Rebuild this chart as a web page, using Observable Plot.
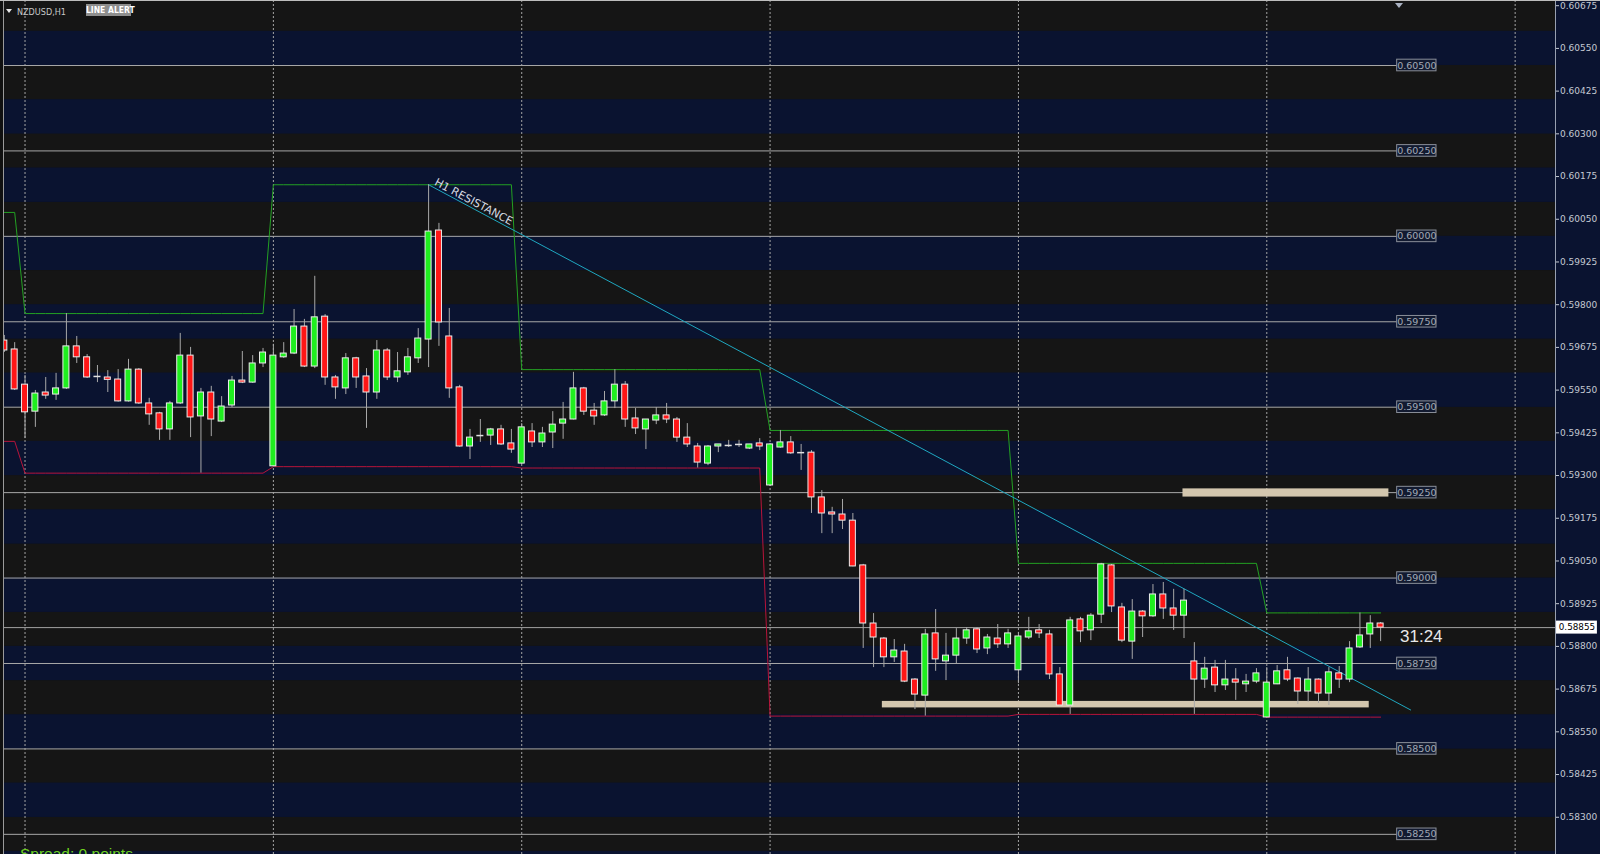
<!DOCTYPE html>
<html><head><meta charset="utf-8">
<script src="https://cdn.jsdelivr.net/npm/d3@7"></script>
<script src="https://cdn.jsdelivr.net/npm/@observablehq/plot@0.6"></script>
<style>
html,body{margin:0;padding:0;background:#0a1330;width:1600px;height:854px;overflow:hidden}
#wrap{position:relative;width:1600px;height:854px;overflow:hidden;background:#0a1330}
#chart svg{display:block}
.ov{position:absolute;white-space:nowrap;line-height:1}
</style></head><body>
<div id="wrap">
<div id="chart"></div>
<div class="ov" style="left:0;top:0;width:3px;height:854px;background:#101010"></div>
<div class="ov" style="left:0;top:0;width:1600px;height:1px;background:#bdbdbd"></div>
<div class="ov" style="left:6px;top:9px;width:0;height:0;border-left:3.5px solid transparent;border-right:3.5px solid transparent;border-top:4px solid #e6e6e6"></div>
<div class="ov" id="sym" style="left:17px;top:7px;font:9px 'DejaVu Sans Condensed','DejaVu Sans';font-stretch:condensed;color:#c8c8c8">NZDUSD,H1</div>
<div class="ov" id="alert" style="left:86px;top:4px;width:45px;height:12px;background:#8e8e8e;color:#fff;font:bold 8.5px 'DejaVu Sans Condensed','DejaVu Sans';font-stretch:condensed;line-height:12px;text-align:center">LINE ALERT</div>
<div class="ov" style="left:1395px;top:3px;width:0;height:0;border-left:4px solid transparent;border-right:4px solid transparent;border-top:5px solid #aab2c2"></div>
<div class="ov" id="timer" style="left:1400px;top:627px;font:17px 'Liberation Sans',Arial;color:#e8e8e8">31:24</div>
<div class="ov" id="spread" style="left:20px;top:845px;font:15.5px 'Liberation Sans',Arial;color:#6fd21f">Spread: 0 points</div>
</div>
<script>
// ---- data ----
const barIdx = d3.range(-2, 132); // hourly bar positions; 0,24,48.. = day starts
const open = [0.59695,0.59669,0.59566,0.59487,0.59543,0.59537,0.59555,0.59678,0.59646,0.59590,0.59587,0.59581,0.59517,0.59610,0.59511,0.59482,0.59435,0.59511,0.59651,0.59473,0.59543,0.59458,0.59505,0.59578,0.59572,0.59628,
0.59327,0.59646,0.59657,0.59736,0.59619,0.59765,0.59587,0.59555,0.59643,0.59590,0.59543,0.59666,0.59587,0.59602,0.59643,0.59698,0.60017,0.59707,0.59558,0.59385,0.59417,0.59417,0.59435,0.59394,
0.59335,0.59429,0.59397,0.59426,0.59452,0.59464,0.59555,0.59490,0.59476,0.59517,0.59566,0.59467,0.59435,0.59461,0.59476,0.59464,0.59411,0.59385,0.59335,0.59385,0.59388,0.59391,0.59379,0.59394,
0.59271,0.59382,0.59397,0.59367,0.59367,0.59236,0.59192,0.59186,0.59168,0.59037,0.58867,0.58823,0.58768,0.58785,0.58703,0.58656,0.58838,0.58756,0.58773,0.58823,0.58850,0.58794,0.58823,0.58806,
0.58730,0.58826,0.58847,0.58835,0.58718,0.58627,0.58879,0.58847,0.58893,0.59037,0.58914,0.58814,0.58902,0.58888,0.58952,0.58911,0.58890,0.58756,0.58703,0.58738,0.58686,0.58703,0.58689,0.58697,
0.58592,0.58689,0.58730,0.58706,0.58668,0.58703,0.58662,0.58721,0.58703,0.58797,0.58835,0.58867];
const high = [0.59710,0.59689,0.59593,0.59549,0.59587,0.59599,0.59774,0.59707,0.59654,0.59622,0.59607,0.59610,0.59640,0.59613,0.59526,0.59485,0.59517,0.59716,0.59675,0.59555,0.59561,0.59531,0.59590,0.59663,0.59651,0.59672,
0.59684,0.59689,0.59786,0.59757,0.59883,0.59771,0.59593,0.59657,0.59646,0.59613,0.59695,0.59672,0.59660,0.59672,0.59730,0.60151,0.60038,0.59789,0.59564,0.59435,0.59464,0.59438,0.59447,0.59435,
0.59452,0.59452,0.59441,0.59487,0.59514,0.59602,0.59558,0.59511,0.59546,0.59610,0.59575,0.59496,0.59464,0.59499,0.59511,0.59470,0.59452,0.59394,0.59388,0.59391,0.59403,0.59403,0.59391,0.59408,
0.59394,0.59432,0.59414,0.59391,0.59373,0.59256,0.59207,0.59230,0.59189,0.59040,0.58896,0.58826,0.58820,0.58806,0.58706,0.58850,0.58908,0.58838,0.58852,0.58855,0.58855,0.58835,0.58864,0.58850,
0.58841,0.58885,0.58864,0.58847,0.58738,0.58885,0.58885,0.58896,0.59043,0.59040,0.58926,0.58937,0.58905,0.58981,0.58987,0.58967,0.58967,0.58811,0.58768,0.58759,0.58759,0.58735,0.58718,0.58735,
0.58738,0.58744,0.58768,0.58708,0.58738,0.58705,0.58738,0.58741,0.58814,0.58898,0.58890,0.58870];
const low = [0.59660,0.59549,0.59408,0.59441,0.59523,0.59520,0.59552,0.59628,0.59584,0.59572,0.59543,0.59515,0.59515,0.59508,0.59447,0.59403,0.59403,0.59508,0.59411,0.59307,0.59414,0.59455,0.59499,0.59569,0.59570,0.59616,
0.59326,0.59643,0.59654,0.59616,0.59613,0.59564,0.59523,0.59537,0.59555,0.59438,0.59523,0.59578,0.59572,0.59593,0.59628,0.59616,0.59678,0.59526,0.59383,0.59347,0.59397,0.59388,0.59388,0.59365,
0.59332,0.59382,0.59382,0.59379,0.59406,0.59463,0.59476,0.59447,0.59473,0.59496,0.59441,0.59420,0.59376,0.59449,0.59452,0.59397,0.59382,0.59322,0.59329,0.59367,0.59382,0.59382,0.59376,0.59373,
0.59268,0.59380,0.59362,0.59315,0.59189,0.59130,0.59130,0.59142,0.59033,0.58794,0.58738,0.58738,0.58753,0.58694,0.58615,0.58596,0.58727,0.58700,0.58747,0.58806,0.58779,0.58776,0.58794,0.58794,
0.58691,0.58820,0.58823,0.58703,0.58625,0.58601,0.58811,0.58817,0.58867,0.58899,0.58811,0.58762,0.58826,0.58885,0.58879,0.58847,0.58823,0.58601,0.58677,0.58665,0.58671,0.58642,0.58665,0.58691,
0.58593,0.58688,0.58697,0.58630,0.58636,0.58633,0.58627,0.58677,0.58694,0.58794,0.58794,0.58814];
const close = [0.59666,0.59552,0.59485,0.59540,0.59534,0.59555,0.59678,0.59646,0.59587,0.59590,0.59580,0.59517,0.59610,0.59511,0.59479,0.59435,0.59511,0.59651,0.59470,0.59543,0.59464,0.59502,0.59578,0.59572,0.59628,0.59660,
0.59651,0.59657,0.59736,0.59619,0.59763,0.59587,0.59558,0.59643,0.59587,0.59543,0.59666,0.59587,0.59605,0.59646,0.59701,0.60014,0.59748,0.59555,0.59385,0.59411,0.59417,0.59435,0.59391,0.59376,
0.59441,0.59397,0.59423,0.59449,0.59464,0.59555,0.59487,0.59473,0.59517,0.59566,0.59464,0.59438,0.59464,0.59476,0.59464,0.59411,0.59391,0.59338,0.59385,0.59391,0.59388,0.59391,0.59391,0.59385,
0.59391,0.59397,0.59365,0.59367,0.59236,0.59189,0.59186,0.59168,0.59034,0.58867,0.58826,0.58768,0.58788,0.58697,0.58659,0.58835,0.58762,0.58773,0.58823,0.58847,0.58791,0.58826,0.58806,0.58838,
0.58829,0.58844,0.58838,0.58718,0.58627,0.58876,0.58844,0.58890,0.59040,0.58917,0.58817,0.58902,0.58888,0.58952,0.58911,0.58890,0.58934,0.58703,0.58735,0.58686,0.58703,0.58694,0.58697,0.58721,
0.58694,0.58727,0.58703,0.58668,0.58703,0.58662,0.58724,0.58703,0.58794,0.58832,0.58867,0.58855];

// daily high / low channel (days starting before bar 0, then at bars 0,24,48,72,96,120)
const dayHigh = [0.60070,0.59774,0.60151,0.59610,0.59432,0.59043,0.58898];
const dayLow  = [0.59400,0.59307,0.59326,0.59322,0.58596,0.58601,0.58593];
const dayStarts = [0,24,48,72,96,120,144];

// round-number levels with boxed labels
const levels = [0.605,0.6025,0.600,0.5975,0.595,0.5925,0.590,0.5875,0.585,0.5825];
// price axis ticks
const yTicks = [0.60675,0.60550,0.60425,0.60300,0.60175,0.60050,0.59925,0.59800,0.59675,0.59550,0.59425,0.59300,0.59175,0.59050,0.58925,0.58800,0.58675,0.58550,0.58425,0.58300];
const currentPrice = 0.58855;

// trend line "H1 RESISTANCE"
const trendX = [39, 133.9];
const trendY = [0.60151, 0.58614];
const trendLabel = "H1 RESISTANCE";

// supply / demand zones
const zoneFrom = [111.9, 82.85];
const zoneTo   = [131.8, 129.9];
const zoneLo   = [0.59237, 0.58620];
const zoneHi   = [0.59261, 0.58639];

// ---- build ----
const X0 = -2.08, X1 = 147.9;
const LBL0 = 132.6, LBL1 = 136.4;
const bars = barIdx.map((i,k)=>({i, o:open[k], h:high[k], l:low[k], c:close[k],
  dh: dayHigh[Math.floor(i/24)+1], dl: dayLow[Math.floor(i/24)+1]}));
const bodies = bars.filter(d=>d.o!==d.c).map(d=>{
  let lo=Math.min(d.o,d.c), hi=Math.max(d.o,d.c);
  if (hi-lo<0.00006){const m=(hi+lo)/2; lo=m-0.00003; hi=m+0.00003;}
  return {...d, lo, hi, fill: d.c>d.o ? "#1fee1f" : "#ff1616"};
});
const dojis = bars.filter(d=>d.o===d.c);
const bands = d3.range(581,607).map(k=>({lo:k/1000, hi:(k+1)/1000, fill: k%2===0 ? "#151515" : "#0a1330"}));
const zones = zoneFrom.map((f,k)=>({x1:f, x2:zoneTo[k], y1:zoneLo[k], y2:zoneHi[k]}));
const trend = trendX.map((x,k)=>({x, y:trendY[k]}));
const lblX = trendX[0]+0.5;
const lblY = trendY[0] + (trendY[1]-trendY[0])*(lblX-trendX[0])/(trendX[1]-trendX[0]);

const chart = Plot.plot({
  width:1600, height:854,
  marginLeft:3, marginRight:45, marginTop:0, marginBottom:0,
  style:{background:"transparent", color:"#c4c9d2", fontFamily:"DejaVu Sans", fontSize:"9px"},
  x:{domain:[X0,X1], axis:null},
  y:{domain:[0.58191,0.606902], axis:"right", ticks:yTicks, tickFormat:d=>d.toFixed(5), tickSize:3, tickPadding:1.5, label:null},
  color:{type:"identity"},
  marks:[
    Plot.rect(bands,{x1:()=>X0, x2:()=>X1, y1:"lo", y2:"hi", fill:"fill"}),
    Plot.ruleX(dayStarts,{stroke:"#a4a4a4", strokeDasharray:"2,2", strokeWidth:1}),
    Plot.ruleY(levels,{x1:()=>X0, x2:()=>LBL0, stroke:"#a8a8a8", strokeWidth:1}),
    Plot.rect(levels,{x1:()=>LBL0, x2:()=>LBL1, y1:d=>d-0.00017, y2:d=>d+0.00017, fill:"#121a30", stroke:"#8a8f99"}),
    Plot.text(levels,{x:()=>(LBL0+LBL1)/2, y:d=>d, text:d=>d.toFixed(5), fill:"#a3aab6", fontSize:9.5, fontFamily:"DejaVu Sans"}),
    Plot.ruleY([currentPrice],{x1:()=>X0, x2:()=>X1, stroke:"#a0a0a0", strokeWidth:1}),
    Plot.line(bars,{x:"i", y:"dh", stroke:"#23a023", strokeWidth:1}),
    Plot.line(bars,{x:"i", y:"dl", stroke:"#b8143a", strokeWidth:1}),
    Plot.rect(zones,{x1:"x1", x2:"x2", y1:"y1", y2:"y2", fill:"#d3c6ae"}),
    Plot.line(trend,{x:"x", y:"y", stroke:"#1fa7c0", strokeWidth:1}),
    Plot.text([trendLabel],{x:()=>lblX, y:()=>lblY, text:d=>d, rotate:28, textAnchor:"start", lineAnchor:"bottom", dy:-3, fill:"#d6dae2", fontSize:11, fontFamily:"DejaVu Sans"}),
    Plot.ruleX(bars,{x:"i", y1:"l", y2:"h", stroke:"#a8a8a8", strokeWidth:1}),
    Plot.rect(bodies,{x1:d=>d.i-0.29, x2:d=>d.i+0.29, y1:"lo", y2:"hi", fill:"fill", stroke:"#ececec", strokeWidth:1}),
    Plot.ruleY(dojis,{y:"o", x1:d=>d.i-0.34, x2:d=>d.i+0.34, stroke:"#e0e0e0", strokeWidth:1.5}),
    Plot.ruleX([X0],{stroke:"#9a9a9a"}),
    Plot.ruleX([X1],{stroke:"#98a0b0"}),
    Plot.rect([currentPrice],{x1:()=>148.0, x2:()=>151.95, y1:d=>d-0.00019, y2:d=>d+0.00019, fill:"#ffffff"}),
    Plot.text([currentPrice],{x:()=>149.97, y:d=>d, text:d=>d.toFixed(5), fill:"#000000", fontSize:8.8, fontFamily:"DejaVu Sans"})
  ]
});
document.getElementById("chart").appendChild(chart);
</script>
</body></html>
